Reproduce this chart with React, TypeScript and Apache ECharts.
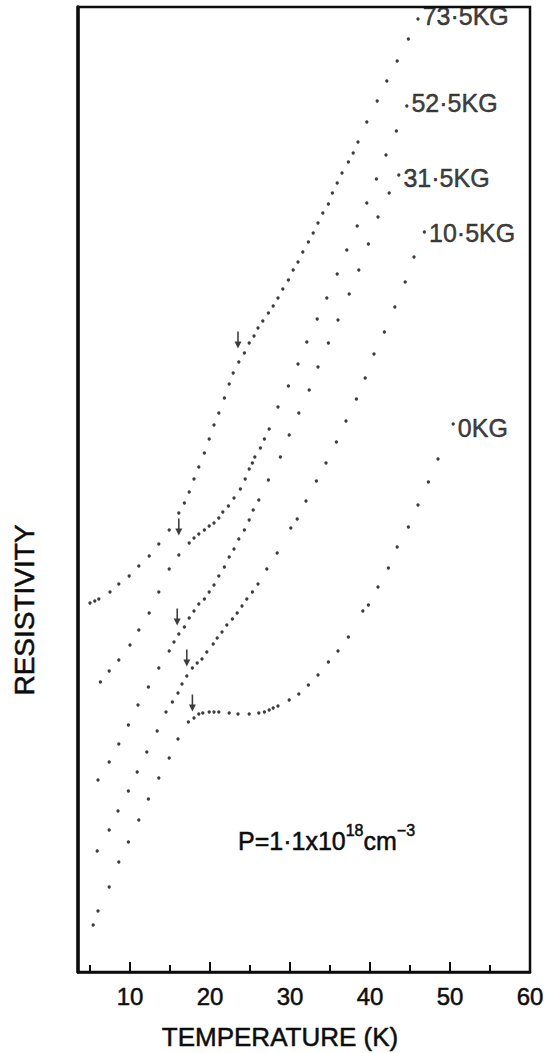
import React, { useEffect, useRef } from 'react';
import * as echarts from 'echarts';

// Field labels for each curve (kG)
const fieldLabels = ['73·5KG', '52·5KG', '31·5KG', '10·5KG', '0KG'];

// Temperature (K) and resistivity (arbitrary units)
const temp735 = [5.0, 5.6, 6.1, 7.5, 8.6, 9.9, 11.1, 12.4, 13.6, 14.9, 16.1, 16.8, 17.4, 18.0, 18.6, 19.3, 19.9, 20.5, 21.1, 21.8, 22.4, 22.9, 23.6, 24.3, 24.9, 25.5, 26.0, 26.6, 27.3, 27.9, 28.5, 29.1, 29.8, 30.4, 31.0, 31.6, 32.3, 32.9, 33.5, 34.1, 34.8, 35.3, 35.9, 36.5, 37.3, 37.9, 38.5, 39.6, 40.9, 42.1, 43.4, 44.8, 46.0];
const res735 = [369, 371, 373, 380, 388, 396, 406, 416, 428, 442, 459, 469, 480, 493, 505, 519, 533, 547, 559, 574, 588, 599, 610, 619, 629, 636, 644, 651, 659, 666, 674, 683, 692, 702, 710, 720, 730, 739, 749, 759, 768, 779, 789, 799, 810, 819, 830, 850, 871, 891, 911, 933, 953];

const temp525 = [6.3, 7.4, 8.6, 10.0, 11.1, 12.4, 13.6, 14.9, 16.1, 17.4, 18.0, 18.6, 19.3, 19.9, 20.5, 21.1, 21.6, 22.3, 23.0, 23.8, 24.4, 24.9, 25.3, 25.6, 26.3, 26.8, 27.4, 28.5, 29.8, 31.0, 32.1, 33.4, 34.6, 35.9, 37.1, 38.4, 39.6, 40.8, 42.0, 43.3, 44.6];
const res525 = [290, 301, 312, 327, 342, 359, 380, 403, 417, 429, 434, 438, 442, 446, 449, 454, 460, 466, 474, 483, 493, 503, 509, 515, 524, 533, 543, 565, 586, 608, 630, 653, 674, 698, 722, 746, 769, 793, 817, 841, 866];

const temp315 = [6.0, 7.4, 8.6, 9.8, 11.0, 12.3, 13.6, 14.9, 15.5, 16.1, 16.8, 17.4, 18.0, 18.6, 19.3, 19.9, 20.5, 21.1, 21.8, 22.4, 23.0, 23.6, 24.3, 24.9, 25.4, 26.1, 27.3, 28.8, 29.9, 31.1, 32.4, 33.5, 34.8, 36.0, 37.4, 38.6, 39.8, 41.0, 42.4, 43.6];
const res315 = [192, 210, 228, 247, 267, 285, 304, 321, 330, 338, 345, 354, 361, 368, 373, 380, 387, 396, 405, 415, 423, 433, 442, 452, 462, 472, 492, 515, 537, 559, 582, 605, 629, 652, 678, 702, 728, 755, 779, 797];

const temp105 = [5.9, 7.4, 8.5, 9.8, 10.9, 12.1, 13.4, 14.5, 15.3, 16.0, 16.5, 17.1, 17.8, 18.4, 19.0, 19.6, 20.4, 20.9, 21.5, 22.1, 22.8, 23.4, 24.0, 24.6, 25.3, 26.0, 27.1, 28.4, 30.1, 30.9, 32.0, 33.3, 34.5, 35.8, 37.0, 38.3, 39.4, 40.5, 41.8, 43.1, 44.4, 45.5, 46.8];
const res105 = [121, 142, 161, 181, 200, 220, 241, 260, 270, 279, 288, 296, 304, 309, 313, 320, 328, 334, 340, 347, 353, 359, 366, 373, 380, 388, 403, 419, 444, 453, 471, 491, 509, 530, 551, 573, 594, 618, 640, 665, 690, 715, 740];

const temp0 = [5.4, 6.0, 7.4, 8.6, 9.8, 11.1, 12.3, 13.6, 14.9, 16.0, 17.3, 18.0, 18.6, 19.1, 19.9, 20.5, 21.1, 22.4, 23.5, 24.9, 26.1, 26.8, 27.4, 27.9, 28.5, 29.9, 31.1, 32.3, 33.5, 34.8, 36.0, 37.3, 39.1, 39.8, 41.0, 42.3, 43.4, 44.8, 46.0, 47.3, 48.5, 50.4];
const res0 = [47, 61, 85, 110, 130, 152, 173, 194, 214, 233, 250, 254, 258, 259, 260, 260, 260, 259, 258, 258, 259, 260, 262, 264, 266, 272, 278, 287, 297, 310, 321, 335, 361, 367, 385, 404, 425, 445, 467, 490, 513, 548];

// Arrows marking the transition on each curve
const arrowTemps = [23.5, 16.1, 15.9, 17.1, 17.8];
const arrowRes = [632, 445, 355, 314, 269];

// Axis ticks
const xMajorTicks = [10, 20, 30, 40, 50, 60];
const xMinorTicks = [5, 15, 25, 35, 45, 55];

const curves = [
  { t: temp735, r: res735 },
  { t: temp525, r: res525 },
  { t: temp315, r: res315 },
  { t: temp105, r: res105 },
  { t: temp0, r: res0 },
];
const labelOffsets = [[0, -3], [0, -3], [0, 3], [0, 1], [0, 4]];

const FONT = "'Liberation Sans', Arial, Helvetica, sans-serif";
const INK = '#0d0d0d';
const HALO = 0.5;

export default function App() {
  const ref = useRef<HTMLDivElement>(null);

  useEffect(() => {
    if (!ref.current) return;
    const chart = echarts.init(ref.current, undefined, { renderer: 'svg' });

    const series: any[] = curves.map((c, i) => ({
      type: 'scatter',
      symbol: 'circle',
      symbolSize: 3.3,
      itemStyle: { color: INK },
      data: c.t.map((t, k) => {
        const item: any = { value: [t, c.r[k]] };
        if (k === c.t.length - 1) {
          item.label = {
            show: true,
            position: 'right',
            distance: 3,
            offset: labelOffsets[i],
            formatter: fieldLabels[i],
            color: INK,
            fontSize: 25,
            fontFamily: FONT,
            textBorderColor: INK,
            textBorderWidth: HALO,
          };
        }
        return item;
      }),
    }));

    series.push({
      type: 'scatter',
      symbol: 'path://M2.8,0 L4.4,0 L4.4,10 L7.2,10 L3.6,17 L0,10 L2.8,10 Z',
      symbolSize: [7, 17],
      itemStyle: { color: INK },
      data: arrowTemps.map((t, k) => [t, arrowRes[k]]),
    });

    // Inward ticks on the temperature axis
    series.push({
      type: 'custom',
      clip: false,
      silent: true,
      data: [...xMajorTicks.map((v) => [v, 0, 1]), ...xMinorTicks.map((v) => [v, 0, 0])],
      renderItem: (_params: any, api: any) => {
        const p = api.coord([api.value(0), api.value(1)]);
        const len = api.value(2) === 1 ? 10 : 7;
        return {
          type: 'line',
          shape: { x1: p[0], y1: p[1], x2: p[0], y2: p[1] - len },
          style: { stroke: INK, lineWidth: 2 },
        };
      },
    });

    chart.setOption({
      animation: false,
      backgroundColor: '#ffffff',
      grid: {
        left: 78,
        right: 18,
        top: 7,
        bottom: 81,
        show: true,
        borderColor: INK,
        borderWidth: 2.5,
        outerBoundsMode: 'none',
      },
      xAxis: {
        type: 'value',
        min: 3.5,
        max: 60,
        axisLine: { show: true, onZero: false, lineStyle: { color: INK, width: 2.5 } },
        axisTick: { show: false },
        axisLabel: {
          show: true,
          customValues: xMajorTicks,
          margin: 12,
          color: INK,
          fontSize: 24,
          fontFamily: FONT,
          textBorderColor: INK,
          textBorderWidth: HALO,
        },
        splitLine: { show: false },
      },
      yAxis: {
        type: 'value',
        min: 0,
        max: 965,
        axisLine: { show: true, onZero: false, lineStyle: { color: INK, width: 3.5 } },
        axisTick: { show: false },
        axisLabel: { show: false },
        splitLine: { show: false },
      },
      graphic: [
        {
          type: 'text',
          x: 280,
          y: 1037,
          style: {
            text: 'TEMPERATURE (K)',
            fill: INK,
            stroke: INK,
            lineWidth: HALO,
            fontSize: 26,
            fontFamily: FONT,
            align: 'center',
            verticalAlign: 'middle',
          },
        },
        {
          type: 'text',
          x: 24,
          y: 610,
          rotation: Math.PI / 2,
          style: {
            text: 'RESISTIVITY',
            fill: INK,
            stroke: INK,
            lineWidth: HALO,
            fontSize: 28,
            fontFamily: FONT,
            align: 'center',
            verticalAlign: 'middle',
          },
        },
        {
          type: 'text',
          x: 238,
          y: 822,
          style: {
            text: '{a|P=1·1x10}{b|18}{a|cm}{b|−3}',
            fill: INK,
            stroke: INK,
            lineWidth: HALO,
            fontFamily: FONT,
            rich: {
              a: { fontSize: 25, fontFamily: FONT, fill: INK, lineHeight: 31, verticalAlign: 'bottom' },
              b: { fontSize: 16, fontFamily: FONT, fill: INK, lineHeight: 18, verticalAlign: 'top' },
            },
          },
        },
      ],
      series,
    });

    return () => chart.dispose();
  }, []);

  return (
    <div
      ref={ref}
      style={{ position: 'fixed', left: 0, top: 0, width: 548, height: 1053, background: '#fff' }}
    />
  );
}
